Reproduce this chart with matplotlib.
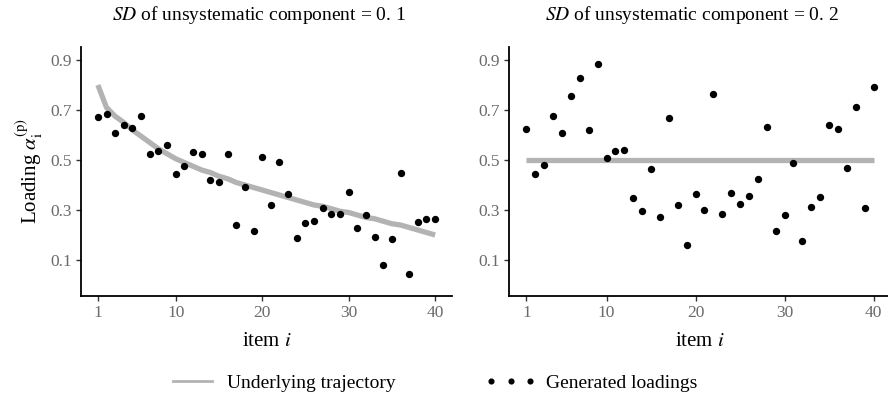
import matplotlib
matplotlib.use("Agg")
import matplotlib.pyplot as plt
from matplotlib.lines import Line2D

plt.rcParams['font.family'] = ['Liberation Serif', 'DejaVu Serif']
plt.rcParams['mathtext.fontset'] = 'stix'

items = list(range(1, 41))

# Underlying trajectory (left panel)
trajectory_left = [0.80, 0.71, 0.675, 0.65, 0.62, 0.595, 0.57, 0.545, 0.525, 0.505,
                   0.49, 0.475, 0.46, 0.45, 0.435, 0.425, 0.41, 0.40, 0.39, 0.38,
                   0.37, 0.36, 0.35, 0.34, 0.33, 0.32, 0.315, 0.305, 0.295, 0.29,
                   0.28, 0.27, 0.265, 0.255, 0.245, 0.24, 0.23, 0.22, 0.21, 0.20]
# Generated loadings (left panel, SD = 0.1)
loadings_left = [0.673, 0.684, 0.609, 0.640, 0.629, 0.677, 0.523, 0.537, 0.560, 0.443,
                 0.477, 0.533, 0.525, 0.421, 0.411, 0.525, 0.241, 0.391, 0.215, 0.512,
                 0.319, 0.492, 0.364, 0.189, 0.249, 0.255, 0.309, 0.284, 0.283, 0.372,
                 0.229, 0.281, 0.191, 0.080, 0.184, 0.448, 0.045, 0.252, 0.265, 0.265]

# Underlying trajectory (right panel)
trajectory_right = [0.5] * 40
# Generated loadings (right panel, SD = 0.2)
loadings_right = [0.624, 0.444, 0.480, 0.677, 0.607, 0.757, 0.829, 0.620, 0.884, 0.507,
                  0.535, 0.540, 0.349, 0.296, 0.463, 0.273, 0.667, 0.320, 0.160, 0.363,
                  0.300, 0.764, 0.285, 0.367, 0.323, 0.357, 0.424, 0.633, 0.217, 0.280,
                  0.488, 0.175, 0.312, 0.353, 0.641, 0.625, 0.468, 0.713, 0.308, 0.792]

xticks = [1, 10, 20, 30, 40]
yticks = [0.1, 0.3, 0.5, 0.7, 0.9]
titles = [r'$\mathit{SD}$ of unsystematic component = 0. 1',
          r'$\mathit{SD}$ of unsystematic component = 0. 2']

W, H = 888, 405
fig = plt.figure(figsize=(W / 100, H / 100), dpi=100)

line_col = '#b3b3b3'
tick_col = '#6b6b6b'

def px_axes(l, r, t, b):
    return fig.add_axes([l / W, 1 - b / H, (r - l) / W, (b - t) / H])

axes = [px_axes(81, 452, 47, 296), px_axes(509, 891, 47, 296)]
data = [(trajectory_left, loadings_left), (trajectory_right, loadings_right)]

for ax, (traj, load) in zip(axes, data):
    ax.plot(items, traj, color=line_col, lw=3.8, solid_capstyle='butt', zorder=1)
    ax.scatter(items, load, s=28, color='black', zorder=2, linewidths=0)
    ax.set_xlim(-0.95, 41.95)
    ax.set_ylim(-0.044, 0.952)
    ax.set_xticks(xticks)
    ax.set_yticks(yticks)
    ax.set_yticklabels(['0.1', '0.3', '0.5', '0.7', '0.9'])
    for s in ['top', 'right']:
        ax.spines[s].set_visible(False)
    for s in ['left', 'bottom']:
        ax.spines[s].set_linewidth(1.3)
        ax.spines[s].set_color('black')
    ax.tick_params(direction='out', length=3.5, width=1.0, color='#333333',
                   labelsize=12.5, labelcolor=tick_col, pad=3)
    ax.set_xlabel(r'item $\mathit{i}$', fontsize=15, labelpad=8)
    ax.patch.set_alpha(0)

axes[0].set_ylabel(r'Loading $\alpha_{\mathrm{i}}^{\mathrm{(p)}}$', fontsize=15, labelpad=4)

fig.text(259 / W, 1 - 15 / H, titles[0], ha='center', va='center', fontsize=14)
fig.text(692 / W, 1 - 15 / H, titles[1], ha='center', va='center', fontsize=14)

handles = [Line2D([], [], color=line_col, lw=2.0),
           Line2D([], [], color='black', marker='o', linestyle='none', markersize=3.4)]
fig.legend(handles, ['Underlying trajectory', 'Generated loadings'],
           loc='center', bbox_to_anchor=(432 / W, 1 - 383 / H), ncol=2,
           frameon=False, fontsize=14, numpoints=3, handlelength=2.6,
           handletextpad=0.5, columnspacing=4.6, borderaxespad=0)

fig.savefig('out.png', dpi=100)
